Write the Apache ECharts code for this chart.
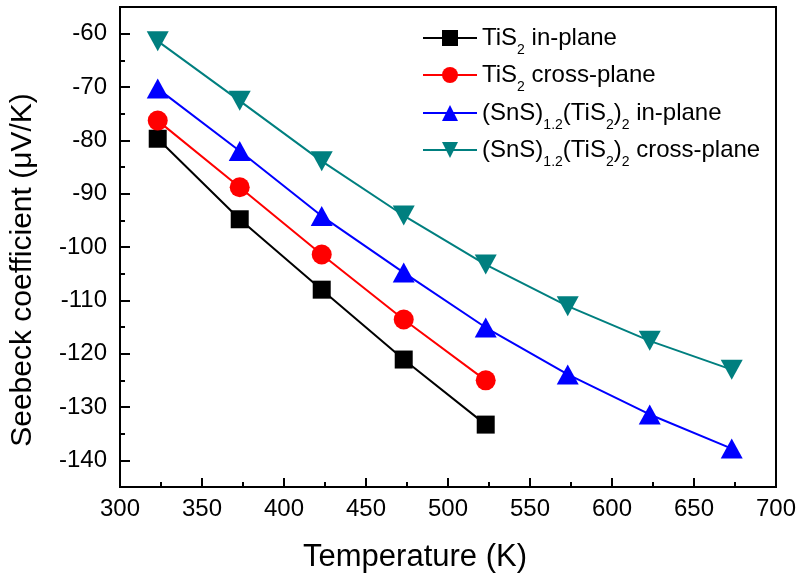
<!DOCTYPE html>
<html>
<head>
<meta charset="utf-8">
<script src="https://cdn.jsdelivr.net/npm/echarts@6/dist/echarts.min.js"></script>
<style>
html,body{margin:0;padding:0;background:#fff;}
#chart{width:803px;height:578px;}
</style>
</head>
<body>
<div id="chart"></div>
<script>
// ---- data ----
var temperature = [323, 373, 423, 473, 523, 573, 623, 673];
var tis2InPlane = [-79.7, -94.8, -108.0, -121.1, -133.3];
var tis2CrossPlane = [-76.3, -88.8, -101.4, -113.6, -125.0];
var snsInPlane = [-70.3, -82.0, -94.2, -104.8, -115.1, -123.9, -131.4, -137.8];
var snsCrossPlane = [-61.4, -72.6, -83.9, -94.1, -103.3, -111.1, -117.6, -123.0];
var seriesNames = ['TiS2 in-plane', 'TiS2 cross-plane', '(SnS)1.2(TiS2)2 in-plane', '(SnS)1.2(TiS2)2 cross-plane'];
var legendRich = [
  '{n|TiS}{s|2}{n| in-plane}',
  '{n|TiS}{s|2}{n| cross-plane}',
  '{n|(SnS)}{s|1.2}{n|(TiS}{s|2}{n|)}{s|2}{n| in-plane}',
  '{n|(SnS)}{s|1.2}{n|(TiS}{s|2}{n|)}{s|2}{n| cross-plane}'
];
var yMajorTicks = [-140, -130, -120, -110, -100, -90, -80, -70, -60];
var yMinorTicks = [-135, -125, -115, -105, -95, -85, -75, -65];

function pairs(vals) {
  return vals.map(function (v, i) { return [temperature[i], v]; });
}

var FONT = 'Liberation Sans';
var chart = echarts.init(document.getElementById('chart'), null, {renderer: 'canvas'});

var colors = ['#000000', '#ff0000', '#0000ff', '#007f7f'];
var symbols = ['rect', 'circle', 'triangle', 'triangle'];
var symbolSizes = [18, 20, [22, 20], [22, 20]];
var rotates = [0, 0, 0, 180];
var values = [tis2InPlane, tis2CrossPlane, snsInPlane, snsCrossPlane];
var legendCenters = [36, 73, 111, 148];

var series = values.map(function (vals, k) {
  return {
    name: seriesNames[k],
    type: 'line',
    data: pairs(vals),
    symbol: symbols[k],
    symbolSize: symbolSizes[k],
    symbolRotate: rotates[k],
    showAllSymbol: true,
    color: colors[k],
    lineStyle: {color: colors[k], width: 2},
    itemStyle: {color: colors[k]},
    emphasis: {disabled: true},
    animation: false,
    z: 2 + k
  };
});

var legends = seriesNames.map(function (nm, k) {
  return {
    data: [nm],
    left: 417,
    top: legendCenters[k] - 15,
    itemWidth: 54,
    itemHeight: 20,
    itemGap: 7,
    selectedMode: false,
    formatter: function () { return legendRich[k]; },
    textStyle: {
      fontFamily: FONT,
      color: '#000',
      rich: {
        n: {fontSize: 24, fontFamily: FONT, color: '#000', lineHeight: 24},
        s: {fontSize: 14, fontFamily: FONT, color: '#000', lineHeight: 14, padding: [17, 0, 0, 0], verticalAlign: 'top'}
      }
    }
  };
});

var option = {
  backgroundColor: '#fff',
  animation: false,
  textStyle: {fontFamily: FONT},
  grid: {left: 120, right: 27, top: 7, bottom: 90, show: true, borderColor: '#000', borderWidth: 2, backgroundColor: 'transparent'},
  legend: legends,
  xAxis: {
    type: 'value',
    min: 300, max: 700, interval: 50,
    name: 'Temperature (K)',
    nameLocation: 'middle',
    nameGap: 55,
    nameTextStyle: {fontSize: 31, fontFamily: FONT, color: '#000', padding: [0, 66, 0, 0]},
    axisLine: {show: true, lineStyle: {color: '#000', width: 2}},
    axisTick: {show: true, inside: true, length: 9, lineStyle: {color: '#000', width: 2}},
    minorTick: {show: true, splitNumber: 2, length: 5, lineStyle: {color: '#000', width: 2}},
    axisLabel: {fontSize: 24, fontFamily: FONT, color: '#000', margin: 10},
    splitLine: {show: false}
  },
  yAxis: [{
    type: 'value',
    min: -145, max: -55,
    name: 'Seebeck coefficient (\u03bcV/K)',
    nameLocation: 'middle',
    nameGap: 82,
    nameTextStyle: {fontSize: 30, fontFamily: FONT, color: '#000', padding: [0, 46, 0, 0]},
    axisLine: {show: true, lineStyle: {color: '#000', width: 2}},
    axisTick: {show: true, inside: true, length: 10, customValues: yMajorTicks, lineStyle: {color: '#000', width: 2}},
    axisLabel: {fontSize: 24, fontFamily: FONT, color: '#000', margin: 13, customValues: yMajorTicks},
    splitLine: {show: false}
  }, {
    type: 'value',
    min: -145, max: -55,
    position: 'left',
    axisLine: {show: false},
    axisTick: {show: true, inside: true, length: 5, customValues: yMinorTicks, lineStyle: {color: '#000', width: 2}},
    axisLabel: {show: false},
    splitLine: {show: false}
  }],
  series: series
};
chart.setOption(option);
</script>
</body>
</html>
